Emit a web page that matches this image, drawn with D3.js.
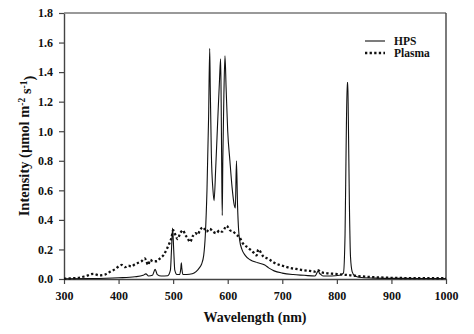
<!DOCTYPE html>
<html>
<head>
<meta charset="utf-8">
<script src="https://cdn.jsdelivr.net/npm/d3@7"></script>
<style>
  html, body { margin: 0; padding: 0; background: #fff; }
  svg text { font-family: "Liberation Serif", "Times New Roman", serif; font-weight: bold; fill: #111; }
</style>
</head>
<body>
<svg id="chart" width="474" height="334"></svg>
<script>
// Spectral output of the two lamps, wavelength (nm) vs. intensity (µmol m-2 s-1)
const hpsWavelength = [300, 350, 400, 430, 445, 450, 455, 462, 467, 471, 478, 490, 495, 497, 499, 501, 503, 507, 512, 514, 515, 516, 518, 525, 535, 542, 548, 552, 556, 559, 562, 565, 567, 568, 570, 573, 575, 578, 582, 585, 587, 588, 589, 590, 591, 593, 595, 597, 600, 604, 608, 612, 614, 616, 618, 620, 622, 626, 632, 641, 655, 668, 675, 685, 700, 720, 740, 760, 764, 766, 768, 771, 775, 790, 805, 812, 815, 817, 819, 820, 821, 823, 825, 828, 833, 845, 870, 920, 1000];
const hpsIntensity  = [0.002, 0.003, 0.008, 0.015, 0.025, 0.035, 0.02, 0.025, 0.065, 0.03, 0.02, 0.022, 0.06, 0.2, 0.345, 0.2, 0.06, 0.03, 0.03, 0.07, 0.11, 0.07, 0.03, 0.03, 0.035, 0.05, 0.075, 0.1, 0.16, 0.3, 0.6, 1.1, 1.56, 1.3, 0.85, 0.6, 0.53, 0.75, 1.1, 1.35, 1.49, 1.2, 0.75, 0.43, 0.8, 1.25, 1.51, 1.3, 1.0, 0.8, 0.62, 0.5, 0.48, 0.8, 0.5, 0.33, 0.26, 0.2, 0.16, 0.13, 0.11, 0.095, 0.075, 0.055, 0.04, 0.03, 0.025, 0.02, 0.045, 0.055, 0.04, 0.03, 0.02, 0.02, 0.025, 0.04, 0.3, 0.9, 1.33, 1.33, 1.1, 0.5, 0.15, 0.05, 0.02, 0.01, 0.006, 0.004, 0.003];

const plasmaWavelength = [300, 315, 330, 340, 354, 365, 375, 385, 395, 400, 406, 412, 418, 424, 430, 436, 442, 448, 451, 454, 458, 463, 470, 476, 482, 488, 493, 497, 500, 504, 508, 513, 518, 522, 526, 531, 536, 541, 545, 549, 555, 561, 567, 573, 579, 585, 590, 594, 598, 604, 610, 616, 622, 628, 634, 641, 647, 653, 656, 659, 662, 666, 672, 677, 685, 695, 705, 714, 725, 738, 750, 760, 765, 768, 772, 780, 795, 810, 825, 845, 870, 900, 940, 1000];
const plasmaIntensity  = [0.002, 0.005, 0.01, 0.02, 0.035, 0.025, 0.03, 0.05, 0.07, 0.085, 0.095, 0.08, 0.09, 0.085, 0.1, 0.11, 0.12, 0.14, 0.12, 0.095, 0.13, 0.12, 0.12, 0.14, 0.16, 0.2, 0.24, 0.28, 0.33, 0.3, 0.27, 0.31, 0.33, 0.3, 0.28, 0.25, 0.29, 0.31, 0.3, 0.33, 0.35, 0.32, 0.34, 0.32, 0.31, 0.33, 0.32, 0.34, 0.36, 0.33, 0.32, 0.3, 0.28, 0.24, 0.22, 0.2, 0.18, 0.16, 0.2, 0.19, 0.17, 0.15, 0.14, 0.13, 0.11, 0.095, 0.085, 0.075, 0.068, 0.06, 0.055, 0.05, 0.06, 0.055, 0.045, 0.04, 0.035, 0.03, 0.025, 0.018, 0.012, 0.008, 0.006, 0.005];

const xTicks = [300, 400, 500, 600, 700, 800, 900, 1000];
const yTicks = [0, 0.2, 0.4, 0.6, 0.8, 1.0, 1.2, 1.4, 1.6, 1.8];
const seriesNames = ["HPS", "Plasma"];

const svg = d3.select("#chart");
const margin = { left: 64, right: 28, top: 13, bottom: 55 };
const W = 474, H = 334;
const x = d3.scaleLinear().domain([300, 1000]).range([margin.left, W - margin.right]);
const y = d3.scaleLinear().domain([0, 1.8]).range([H - margin.bottom, margin.top]);

const frameColor = "#444";

// Axes
const xAxis = svg.append("g")
  .attr("transform", `translate(0,${y(0)})`)
  .call(d3.axisBottom(x).tickValues(xTicks).tickFormat(d3.format("d")).tickSize(5).tickSizeOuter(0));
const yAxis = svg.append("g")
  .attr("transform", `translate(${x(300)},0)`)
  .call(d3.axisLeft(y).tickValues(yTicks).tickFormat(d3.format(".1f")).tickSize(5).tickSizeOuter(0));

[xAxis, yAxis].forEach(g => {
  g.select(".domain").attr("stroke", frameColor).attr("stroke-width", 1.4);
  g.selectAll(".tick line").attr("stroke", frameColor).attr("stroke-width", 1.2);
  g.selectAll(".tick text").attr("font-size", 12).attr("fill", "#111")
    .style("font-family", "'Liberation Serif', serif").style("font-weight", "bold");
});
xAxis.selectAll(".tick text").attr("dy", "1.1em");
yAxis.selectAll(".tick text").attr("dx", "-0.25em");

// Top and right frame lines
svg.append("line").attr("x1", x(300)).attr("x2", x(1000)).attr("y1", y(1.8)).attr("y2", y(1.8))
  .attr("stroke", "#777").attr("stroke-width", 1.4);
svg.append("line").attr("x1", x(1000)).attr("x2", x(1000)).attr("y1", y(1.8)).attr("y2", y(0))
  .attr("stroke", frameColor).attr("stroke-width", 1.4);

// Series
const line = d3.line().x(d => x(d[0])).y(d => y(d[1])).curve(d3.curveMonotoneX);
const plasma = plasmaWavelength.map((w, i) => [w, plasmaIntensity[i]]);
const hps = hpsWavelength.map((w, i) => [w, hpsIntensity[i]]);

svg.append("path").datum(plasma).attr("d", line)
  .attr("fill", "none").attr("stroke", "#111").attr("stroke-width", 2.3)
  .attr("stroke-dasharray", "2.3,2.3");
svg.append("path").datum(hps).attr("d", line)
  .attr("fill", "none").attr("stroke", "#111").attr("stroke-width", 1.1);

// Legend
const legend = svg.append("g");
const legendRows = [
  { name: seriesNames[0], dash: null, width: 1.1, yPos: 41 },
  { name: seriesNames[1], dash: "2.3,2.3", width: 2.3, yPos: 53 }
];
legendRows.forEach(r => {
  legend.append("line").attr("x1", 365).attr("x2", 385).attr("y1", r.yPos).attr("y2", r.yPos)
    .attr("stroke", "#111").attr("stroke-width", r.width)
    .attr("stroke-dasharray", r.dash);
  legend.append("text").attr("x", 394).attr("y", r.yPos).attr("dy", "0.35em")
    .attr("font-size", 11.5).text(r.name);
});

// Axis titles
svg.append("text").attr("x", (x(300) + x(1000)) / 2).attr("y", 322)
  .attr("text-anchor", "middle").attr("font-size", 14).text("Wavelength (nm)");

const yTitle = svg.append("text")
  .attr("transform", `translate(29,${(y(0) + y(1.8)) / 2}) rotate(-90)`)
  .attr("text-anchor", "middle").attr("font-size", 14.5);
yTitle.append("tspan").text("Intensity (µmol m");
yTitle.append("tspan").attr("dy", "-0.45em").attr("font-size", 9.5).text("-2");
yTitle.append("tspan").attr("dy", "0.45em").text(" s");
yTitle.append("tspan").attr("dy", "-0.45em").attr("font-size", 9.5).text("-1");
yTitle.append("tspan").attr("dy", "0.45em").text(")");
</script>
</body>
</html>
